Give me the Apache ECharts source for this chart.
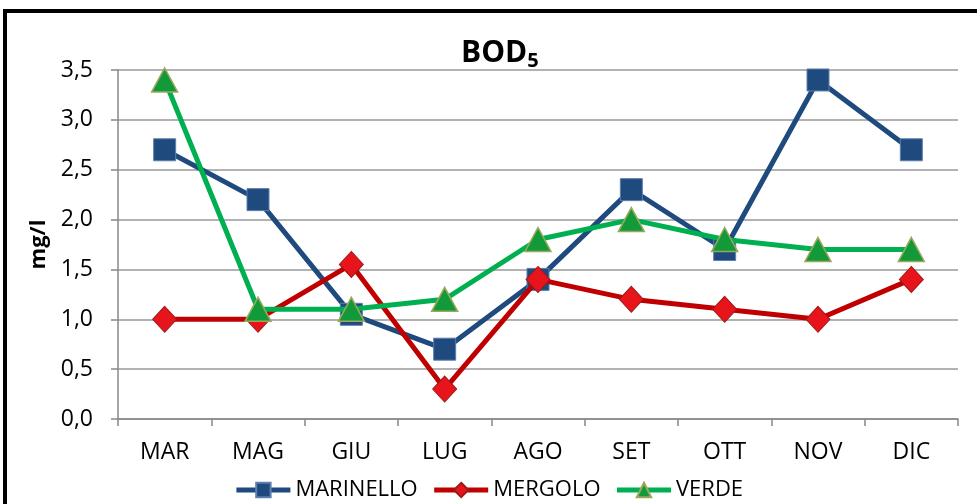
<!DOCTYPE html>
<html>
<head>
<meta charset="utf-8">
<script src="https://cdn.jsdelivr.net/npm/echarts@6/dist/echarts.min.js"></script>
<style>
html, body { margin: 0; padding: 0; background: #fff; }
#chart { width: 977px; height: 504px; }
</style>
</head>
<body>
<div id="chart"></div>
<script>
var mesi = ['MAR', 'MAG', 'GIU', 'LUG', 'AGO', 'SET', 'OTT', 'NOV', 'DIC'];
var marinello = [2.7, 2.2, 1.05, 0.7, 1.4, 2.3, 1.7, 3.4, 2.7];
var mergolo = [1.0, 1.0, 1.55, 0.3, 1.4, 1.2, 1.1, 1.0, 1.4];
var verde = [3.4, 1.1, 1.1, 1.2, 1.8, 2.0, 1.8, 1.7, 1.7];

var myChart = echarts.init(document.getElementById('chart'));
var font = 'Open Sans';

var option = {
    backgroundColor: '#fff',
    textStyle: { fontFamily: font },
    graphic: [{
        type: 'rect',
        shape: { x: 5, y: 11, width: 1100, height: 600 },
        style: { fill: 'none', stroke: '#000', lineWidth: 4 },
        silent: true
    }],
    title: {
        text: '{a|BOD}{b|5}',
        left: 456,
        top: 30,
        textStyle: {
            rich: {
                a: { fontSize: 30, fontWeight: 'bold', color: '#000', fontFamily: font },
                b: { fontSize: 20, fontWeight: 'bold', color: '#000', fontFamily: font, padding: [16, 0, 0, 0] }
            }
        }
    },
    legend: {
        bottom: -2,
        left: 'center',
        itemWidth: 54,
        itemHeight: 18,
        itemGap: 14,
        lineStyle: { width: 5 },
        textStyle: { fontSize: 22, color: '#000', fontFamily: font },
        data: ['MARINELLO', 'MERGOLO', 'VERDE']
    },
    grid: { left: 118, right: 19, top: 70, bottom: 85 },
    xAxis: {
        type: 'category',
        data: mesi,
        boundaryGap: true,
        axisLine: { lineStyle: { color: '#888', width: 1.5 } },
        axisTick: { show: true, length: 7, lineStyle: { color: '#888', width: 1.5 } },
        axisLabel: { fontSize: 23, color: '#000', margin: 22, fontFamily: font }
    },
    yAxis: {
        type: 'value',
        min: 0,
        max: 3.5,
        interval: 0.5,
        name: 'mg/l',
        nameLocation: 'middle',
        nameGap: 68,
        nameTextStyle: { fontSize: 22, fontWeight: 'bold', color: '#000', fontFamily: font },
        axisLine: { show: true, lineStyle: { color: '#888', width: 1.5 } },
        axisTick: { show: true, length: 7, lineStyle: { color: '#888', width: 1.5 } },
        splitLine: { lineStyle: { color: '#999', width: 1.5 } },
        axisLabel: {
            fontSize: 23, color: '#000', margin: 25, fontFamily: font,
            formatter: function (v) { return v.toFixed(1).replace('.', ','); }
        }
    },
    series: [
        {
            name: 'MARINELLO',
            type: 'line',
            data: marinello,
            symbol: 'rect',
            symbolSize: 22,
            lineStyle: { color: '#1F4A7E', width: 5 },
            itemStyle: { color: '#1F4A7E', borderColor: '#5C7FAE', borderWidth: 1 },
            z: 2
        },
        {
            name: 'MERGOLO',
            type: 'line',
            data: mergolo,
            symbol: 'diamond',
            symbolSize: [24, 26],
            lineStyle: { color: '#C00000', width: 5 },
            itemStyle: { color: '#E8141C', borderColor: '#9E1A1A', borderWidth: 1 },
            z: 3
        },
        {
            name: 'VERDE',
            type: 'line',
            data: verde,
            symbol: 'triangle',
            symbolSize: [26, 24],
            lineStyle: { color: '#00B050', width: 5 },
            itemStyle: { color: '#129A3A', borderColor: '#9BA85C', borderWidth: 1.5 },
            z: 4
        }
    ]
};
myChart.setOption(option);
</script>
</body>
</html>
